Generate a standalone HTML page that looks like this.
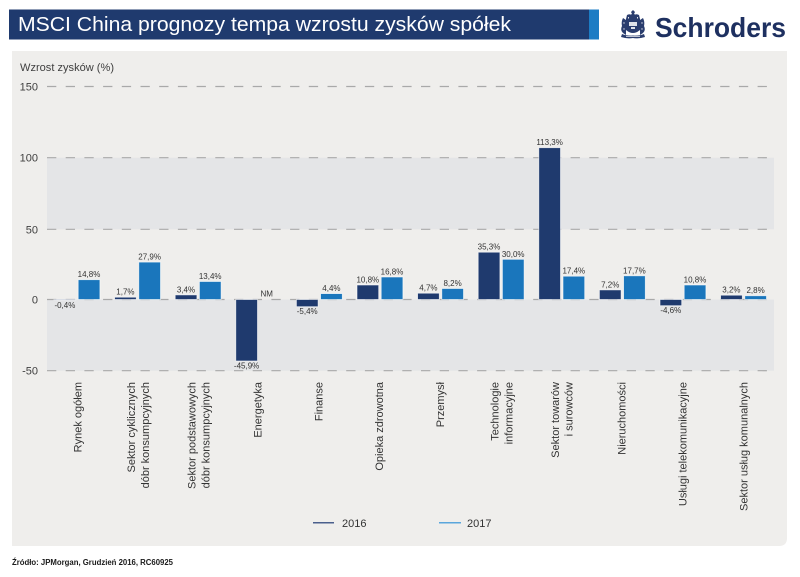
<!DOCTYPE html>
<html><head><meta charset="utf-8"><style>
html,body{margin:0;padding:0;background:#fff;}
svg{display:block;}
text{font-family:"Liberation Sans",Arial,sans-serif;}
</style></head><body>
<svg width="800" height="577" viewBox="0 0 800 577" xmlns="http://www.w3.org/2000/svg">
<rect x="0" y="0" width="800" height="577" fill="#ffffff"/>
<!-- title bar -->
<rect x="9" y="9.5" width="581" height="30" fill="#1f3a6e"/>
<rect x="589" y="9.5" width="10" height="30" fill="#1c7cc4"/>
<text x="18" y="31" font-size="20" fill="#ffffff" textLength="493" lengthAdjust="spacingAndGlyphs">MSCI China prognozy tempa wzrostu zysków spółek</text>
<!-- logo crest -->
<g fill="#2a3d6e">
<path d="M633 10 L635 12 L634 14 L636 15 L634 16 L632 16 L630 15 L632 14 L631 12 Z"/>
<path d="M627 15 Q630 13 633 16 Q636 13 639 15 L640 19 L626 19 Z"/>
<path d="M623 18 Q621 22 622 26 Q620 30 623 33 L626 35 L626 20 Z"/>
<path d="M643 18 Q645 22 644 26 Q646 30 643 33 L640 35 L640 20 Z"/>
<path d="M626 19 L640 19 L640 30 Q633 36 626 30 Z"/>
<path d="M622 34 Q627 36 633 35.5 Q639 36 644 34 L645 37 Q639 39 633 38 Q627 39 621 37 Z"/>
</g>
<g fill="#ffffff" opacity="0.85">
<rect x="629" y="22" width="8" height="4"/>
<rect x="631" y="27" width="4" height="2"/>
<circle cx="624" cy="23" r="0.7"/>
<circle cx="642" cy="23" r="0.7"/>
<circle cx="624" cy="29" r="0.7"/>
<circle cx="642" cy="29" r="0.7"/>
<rect x="628" y="17" width="1" height="1.5"/>
<rect x="637" y="17" width="1" height="1.5"/>
<rect x="626" y="36" width="14" height="0.8"/>
</g>
<text x="655" y="37" font-size="28" font-weight="bold" fill="#1e3060" textLength="131" lengthAdjust="spacingAndGlyphs">Schroders</text>
<!-- panel -->
<path d="M12 51 L787 51 L787 538 Q787 546 779 546 L12 546 Z" fill="#efeeec"/>
<!-- bands -->
<rect x="47" y="157.7" width="727" height="71.6" fill="#e4e5e7"/>
<rect x="47" y="299.5" width="727" height="71.2" fill="#e4e5e7"/>
<!-- gridlines -->
<g stroke="#a9a9a9" stroke-width="1.2" stroke-dasharray="9.3 9.4" fill="none">
<line x1="47" y1="86.5" x2="774" y2="86.5"/>
<line x1="47" y1="157.7" x2="774" y2="157.7"/>
<line x1="47" y1="229.3" x2="774" y2="229.3"/>
<line x1="47" y1="299.5" x2="774" y2="299.5"/>
<line x1="47" y1="370.7" x2="774" y2="370.7"/>
</g>
<!-- y labels -->
<g font-size="11" fill="#404040" text-anchor="end">
<text x="38" y="90.5">150</text>
<text x="38" y="161.7">100</text>
<text x="38" y="233.3">50</text>
<text x="38" y="303.5">0</text>
<text x="38" y="374.7">-50</text>
</g>
<text x="20" y="71" font-size="11" fill="#404040" textLength="94" lengthAdjust="spacingAndGlyphs">Wzrost zysków (%)</text>
<!-- bars -->
<g stroke="#ffffff" stroke-width="0.8" stroke-opacity="0.7">
<g fill="#1f3a6e">
<rect x="54" y="299.5" width="21.7" height="0.6"/>
<rect x="114.6" y="297.2" width="21.7" height="2.3"/>
<rect x="175.2" y="294.9" width="21.7" height="4.6"/>
<rect x="235.8" y="299.5" width="21.7" height="61.5"/>
<rect x="296.4" y="299.5" width="21.7" height="7.2"/>
<rect x="357" y="285.0" width="21.7" height="14.5"/>
<rect x="417.6" y="293.2" width="21.7" height="6.3"/>
<rect x="478.2" y="252.2" width="21.7" height="47.3"/>
<rect x="538.8" y="147.7" width="21.7" height="151.8"/>
<rect x="599.4" y="289.9" width="21.7" height="9.6"/>
<rect x="660" y="299.5" width="21.7" height="6.2"/>
<rect x="720.6" y="295.2" width="21.7" height="4.3"/>
</g>
<g fill="#1a76bc">
<rect x="78.2" y="279.7" width="21.7" height="19.8"/>
<rect x="138.8" y="262.1" width="21.7" height="37.4"/>
<rect x="199.4" y="281.5" width="21.7" height="18"/>
<rect x="320.6" y="293.6" width="21.7" height="5.9"/>
<rect x="381.2" y="277.0" width="21.7" height="22.5"/>
<rect x="441.8" y="288.5" width="21.7" height="11"/>
<rect x="502.4" y="259.3" width="21.7" height="40.2"/>
<rect x="563" y="276.2" width="21.7" height="23.3"/>
<rect x="623.6" y="275.8" width="21.7" height="23.7"/>
<rect x="684.2" y="285.0" width="21.7" height="14.5"/>
<rect x="744.8" y="295.75" width="21.7" height="3.75"/>
</g>
</g>
<!-- data labels -->
<g font-size="8" fill="#333333" text-anchor="middle">
<text x="64.9" y="308">-0,4%</text>
<text x="89" y="277">14,8%</text>
<text x="125.4" y="294.7">1,7%</text>
<text x="149.6" y="259.6">27,9%</text>
<text x="186" y="292.4">3,4%</text>
<text x="210.2" y="279">13,4%</text>
<text x="246.6" y="368.5">-45,9%</text>
<text x="266.7" y="296.5">NM</text>
<text x="307.2" y="314.2">-5,4%</text>
<text x="331.4" y="291.1">4,4%</text>
<text x="367.8" y="282.5">10,8%</text>
<text x="392" y="274.5">16,8%</text>
<text x="428.4" y="290.7">4,7%</text>
<text x="452.6" y="286">8,2%</text>
<text x="489" y="249.7">35,3%</text>
<text x="513.2" y="256.8">30,0%</text>
<text x="549.6" y="145.2">113,3%</text>
<text x="573.8" y="273.7">17,4%</text>
<text x="610.2" y="287.4">7,2%</text>
<text x="634.4" y="273.3">17,7%</text>
<text x="670.8" y="313.2">-4,6%</text>
<text x="695" y="282.5">10,8%</text>
<text x="731.4" y="292.7">3,2%</text>
<text x="755.6" y="293.2">2,8%</text>
</g>
<!-- x labels -->
<g font-size="11" fill="#333333" text-anchor="end">
<text transform="translate(81.3,382) rotate(-90)">Rynek ogółem</text>
<text transform="translate(134.9,382) rotate(-90)">Sektor cyklicznych</text>
<text transform="translate(148.9,382) rotate(-90)">dóbr konsumpcyjnych</text>
<text transform="translate(195.5,382) rotate(-90)">Sektor podstawowych</text>
<text transform="translate(209.5,382) rotate(-90)">dóbr konsumpcyjnych</text>
<text transform="translate(261.3,382) rotate(-90)">Energetyka</text>
<text transform="translate(322.3,382) rotate(-90)">Finanse</text>
<text transform="translate(383,382) rotate(-90)">Opieka zdrowotna</text>
<text transform="translate(444,382) rotate(-90)">Przemysł</text>
<text transform="translate(498.3,382) rotate(-90)">Technologie</text>
<text transform="translate(512.3,382) rotate(-90)">informacyjne</text>
<text transform="translate(559,382) rotate(-90)">Sektor towarów</text>
<text transform="translate(572.3,382) rotate(-90)">i surowców</text>
<text transform="translate(625.7,382) rotate(-90)">Nieruchomości</text>
<text transform="translate(686.7,382) rotate(-90)">Usługi telekomunikacyjne</text>
<text transform="translate(747.3,382) rotate(-90)">Sektor usług komunalnych</text>
</g>
<!-- legend -->
<line x1="313" y1="522.7" x2="334" y2="522.7" stroke="#4a5f8c" stroke-width="1.5"/>
<text x="342" y="527" font-size="11" fill="#333333">2016</text>
<line x1="439" y1="522.7" x2="461" y2="522.7" stroke="#5aa6dc" stroke-width="1.5"/>
<text x="467" y="527" font-size="11" fill="#333333">2017</text>
<!-- footer -->
<text x="12" y="565" font-size="8" font-weight="bold" fill="#1a1a1a" textLength="161" lengthAdjust="spacingAndGlyphs">Źródło: JPMorgan, Grudzień 2016, RC60925</text>
</svg>
</body></html>
